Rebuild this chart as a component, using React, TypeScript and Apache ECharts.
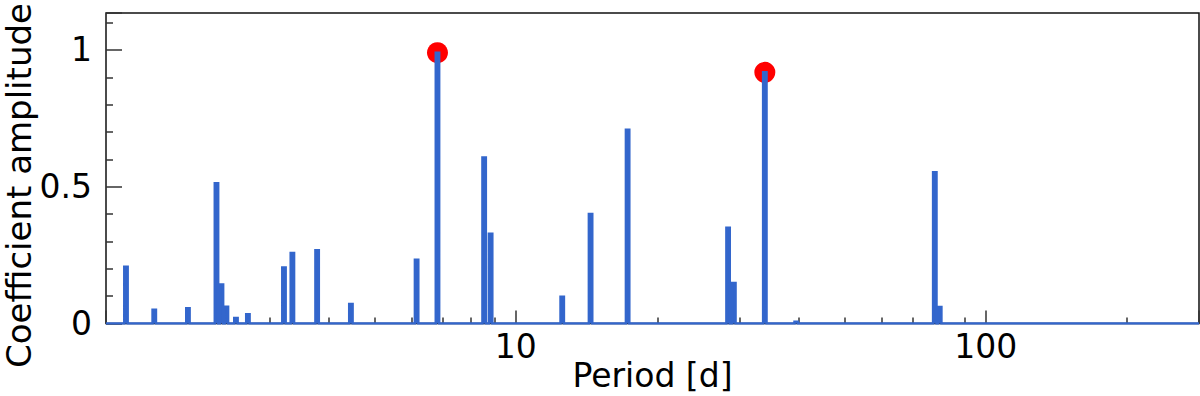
import React, { useEffect, useRef } from "react";
import * as echarts from "echarts";

// Peak periods (days) and coefficient amplitudes
const peakPeriods = [
  1.48, 1.70, 2.005, 2.306, 2.363, 2.421, 2.537, 2.69, 3.21, 3.345, 3.776, 4.456,
  6.148, 6.81, 8.56, 8.836, 12.55, 14.42, 17.29, 28.29, 29.1, 33.87, 39.5, 77.9, 79.8,
];
const peakAmplitudes = [
  0.207, 0.05, 0.056, 0.513, 0.143, 0.061, 0.02, 0.034, 0.205, 0.258, 0.268, 0.071,
  0.233, 0.99, 0.607, 0.328, 0.098, 0.4, 0.708, 0.35, 0.148, 0.918, 0.006, 0.553, 0.06,
];

// Highlighted (strongest) peaks
const markerPeriods = [6.81, 33.87];
const markerAmplitudes = [0.99, 0.918];

// Axis ranges and ticks
const periodMin = 1.342;
const periodMax = 284.3;
const ampMin = 0;
const ampMax = 1.135;
const xMajorTicks = [10, 100];
const xMinorTicks = [2, 3, 4, 5, 6, 7, 8, 9, 20, 30, 40, 50, 60, 70, 80, 90, 200];
const yLabels = [0, 0.5, 1];

const FONT = "DejaVu Sans";
const BLUE = "#3366cc";

export default function App() {
  const ref = useRef<HTMLDivElement>(null);

  useEffect(() => {
    if (!ref.current) return;
    const chart = echarts.init(ref.current, undefined, { renderer: "svg" });

    // each peak is drawn as a narrow flat-topped stem
    const k = Math.pow(10, 0.0036);
    const lineData: number[][] = [[periodMin, 0]];
    peakPeriods.forEach((p, i) => {
      const v = peakAmplitudes[i];
      lineData.push([p / k, 0], [p / k, v], [p * k, v], [p * k, 0]);
    });
    lineData.push([periodMax, 0]);

    const markerData = markerPeriods.map((p, i) => [p, markerAmplitudes[i]]);

    chart.setOption({
      animation: false,
      backgroundColor: "#ffffff",
      grid: {
        left: 106,
        right: 1,
        top: 13,
        bottom: 72.5,
        outerBoundsMode: "none",
        containLabel: false,
        show: true,
        borderColor: "#111",
        borderWidth: 1.5,
        backgroundColor: "transparent",
      },
      xAxis: [
        {
          type: "log",
          logBase: 10,
          min: periodMin,
          max: periodMax,
          position: "bottom",
          axisLine: { show: false },
          axisTick: { show: true, inside: true, length: 13, lineStyle: { color: "#333", width: 1.5 } },
          splitLine: { show: false },
          axisLabel: {
            fontSize: 33,
            fontFamily: FONT,
            color: "#000",
            margin: 6,
            formatter: (v: number) =>
              xMajorTicks.some((t) => Math.abs(t - v) / t < 1e-6) ? String(Math.round(v)) : "",
          },
          name: "Period [d]",
          nameLocation: "middle",
          nameGap: 35,
          nameMoveOverlap: false,
          nameTextStyle: { fontSize: 33, fontFamily: FONT, color: "#000" },
        },
        {
          type: "value",
          min: Math.log10(periodMin),
          max: Math.log10(periodMax),
          position: "bottom",
          axisLine: { show: false },
          axisLabel: { show: false },
          splitLine: { show: false },
          axisTick: {
            show: true,
            inside: true,
            length: 6,
            customValues: xMinorTicks.map((t) => Math.log10(t)),
            lineStyle: { color: "#333", width: 1.5 },
          },
        },
      ],
      yAxis: {
        type: "value",
        min: ampMin,
        max: ampMax,
        interval: 0.5,
        axisLine: { show: false },
        splitLine: { show: false },
        axisTick: { show: true, inside: true, length: 16, lineStyle: { color: "#333", width: 1.5 } },
        minorTick: { show: true, splitNumber: 5, length: 7, lineStyle: { color: "#333", width: 1.5 } },
        axisLabel: {
          fontSize: 33,
          fontFamily: FONT,
          color: "#000",
          margin: 14,
          formatter: (v: number) =>
            yLabels.some((t) => Math.abs(t - v) < 1e-6) ? String(Math.round(v * 10) / 10) : "",
        },
      },
      graphic: [
        {
          type: "text",
          x: 19,
          y: 185.5,
          rotation: Math.PI / 2,
          style: {
            text: "Coefficient amplitude",
            font: `34px "${FONT}"`,
            fill: "#000",
            align: "center",
            verticalAlign: "middle",
          },
        },
      ],
      series: [
        {
          type: "scatter",
          xAxisIndex: 0,
          data: markerData,
          symbol: "circle",
          symbolSize: 21,
          itemStyle: { color: "#ff0000", opacity: 1 },
          z: 1,
        },
        {
          type: "line",
          xAxisIndex: 0,
          data: lineData,
          showSymbol: false,
          symbol: "none",
          lineStyle: { color: BLUE, width: 2.5, join: "miter" },
          areaStyle: { color: BLUE, opacity: 1 },
          z: 3,
        },
      ],
    });

    return () => chart.dispose();
  }, []);

  return (
    <div
      ref={ref}
      style={{ position: "fixed", left: 0, top: 0, width: 1200, height: 396 }}
    />
  );
}
